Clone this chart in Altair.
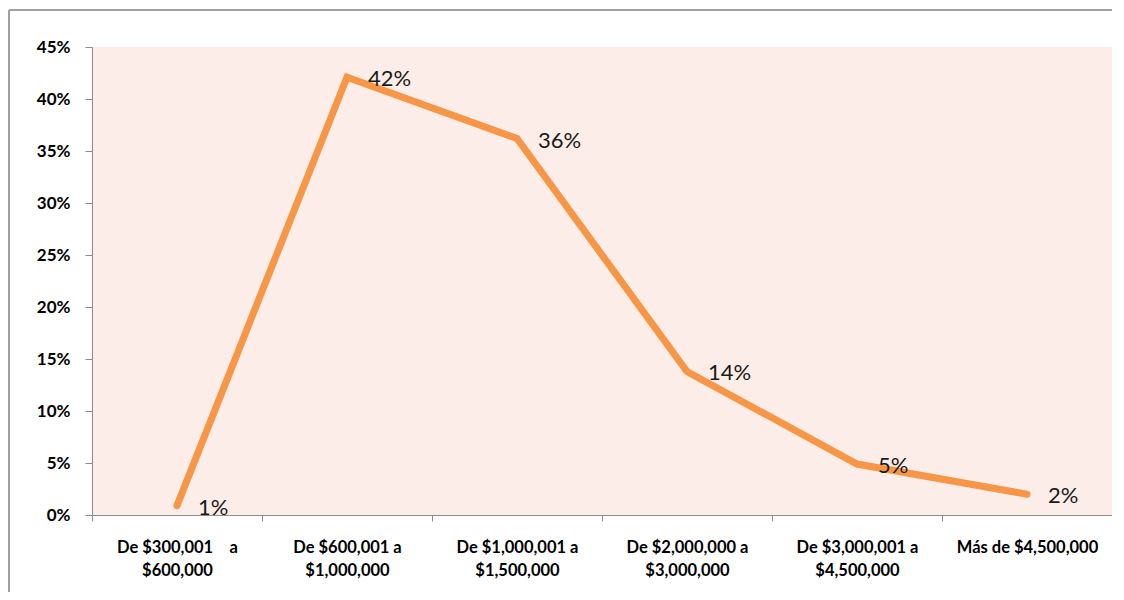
import altair as alt
import pandas as pd

categories = [
    "De $300,001   a\n$600,000",
    "De $600,001 a\n$1,000,000",
    "De $1,000,001 a\n$1,500,000",
    "De $2,000,000 a\n$3,000,000",
    "De $3,000,001 a\n$4,500,000",
    "Más de $4,500,000",
]
values = [0.009, 0.421, 0.362, 0.138, 0.049, 0.020]
labels = ["1%", "42%", "36%", "14%", "5%", "2%"]
y_ticks = [0, 0.05, 0.10, 0.15, 0.20, 0.25, 0.30, 0.35, 0.40, 0.45]

df = pd.DataFrame({"cat": categories, "val": values, "lab": labels})

FONT = "Lato"

x = alt.X(
    "cat:N",
    sort=categories,
    title=None,
    scale=alt.Scale(paddingInner=0, paddingOuter=0),
    axis=alt.Axis(
        labelAngle=0,
        labelExpr="split(replace(datum.label, '   ', '\u2002\u2002'), '\\n')",
        labelFont=FONT,
        labelFontSize=16.5,
        labelFontWeight="bold",
        labelColor="#000000",
        labelPadding=18,
        labelLineHeight=23,
        tickBand="extent",
        tickSize=6,
        tickColor="#8c8c8c",
        domainColor="#8c8c8c",
        labelBaseline="top",
    ),
)
y = alt.Y(
    "val:Q",
    title=None,
    scale=alt.Scale(domain=[0, 0.45], nice=False),
    axis=alt.Axis(
        values=y_ticks,
        format=".0%",
        labelFont=FONT,
        labelFontSize=17,
        labelFontWeight="bold",
        labelColor="#000000",
        labelPadding=15,
        tickSize=7,
        tickColor="#8c8c8c",
        domainColor="#8c8c8c",
        grid=False,
    ),
)

line = alt.Chart(df).mark_line(
    color="#F79646", strokeWidth=7, strokeCap="round"
).encode(x=x, y=y)

text = alt.Chart(df).mark_text(
    align="left", baseline="middle", dx=21, dy=2, fontSize=22, font=FONT, color="#1a1a1a"
).encode(x=alt.X("cat:N", sort=categories), y="val:Q", text="lab:N")

frame_left = alt.Chart(df).mark_rule(color="#a0a0a0", strokeWidth=2).encode(
    x=alt.value(-83), y=alt.value(-37), y2=alt.value(560)
)
frame_top = alt.Chart(df).mark_rule(color="#a0a0a0", strokeWidth=2).encode(
    x=alt.value(-83), x2=alt.value(1040), y=alt.value(-37)
)

chart = alt.layer(line, text, frame_left, frame_top).properties(
    width=1020,
    height=468,
    autosize=alt.AutoSizeParams(type="none"),
    padding={"left": 84, "top": 39, "right": 0, "bottom": 77},
).configure(background="white").configure_view(fill="#FCEDE8", stroke=None)

chart.save("out.html", embed_options={"renderer": "svg", "actions": False})
